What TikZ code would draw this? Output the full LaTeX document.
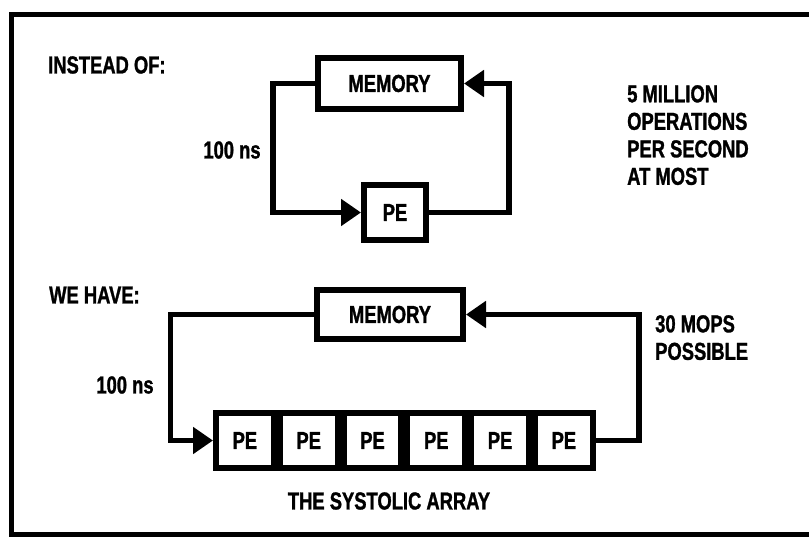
\documentclass[tikz,border=0pt]{standalone}
\usepackage{fontspec}
\usepackage{tikz}
\usetikzlibrary{arrows.meta, positioning, calc}
\newfontfamily\lblfont[FakeStretch=0.75, FakeBold=1.2]{Liberation Sans}
\newcommand{\lbltext}{\lblfont\bfseries\fontsize{24.5}{27.5}\selectfont}
\tikzstyle{membox} = [rectangle, draw=black, line width=6pt, minimum width=143pt, minimum height=51pt, inner sep=0pt, font=\lbltext]
\tikzstyle{pebox} = [rectangle, draw=black, line width=6pt, minimum width=57.8pt, minimum height=55pt, inner sep=0pt, font=\lbltext]
\tikzstyle{lbl} = [inner sep=0pt, font=\lbltext, align=left]
\tikzstyle{arrow} = [line width=5.5pt, -{Triangle[length=20pt, width=26pt]}]
\tikzstyle{frame} = [line width=5pt]

\begin{document}
\begin{tikzpicture}[x=1pt, y=-1pt]
    \useasboundingbox (0,0) rectangle (809,544);
    % Frame
    \draw [frame] (809,14) -- (11,14) -- (11,534) -- (809,534);

    % Instead of
    \node (insteadof) [lbl, anchor=west] at (48,65) {INSTEAD OF:};
    \node (memA) [membox] at (389.5,83.5) {MEMORY};
    \node (peA) [pebox, minimum width=62pt, minimum height=55pt] at (395,212.5) {PE};
    \node (nsA) [lbl] at (232,150) {100 ns};
    \node (mops5) [lbl, anchor=north west] at (627,85) {5 MILLION\\OPERATIONS\\PER SECOND\\AT MOST};

    \draw [arrow] (memA.west) -- ++(-42,0) |- (peA.west);
    \draw [arrow] (peA.east) -- ++(80,0) |- (memA.east);

    % We have
    \node (wehave) [lbl, anchor=west] at (49,295) {WE HAVE:};
    \node (memB) [membox, minimum width=146pt, minimum height=49pt] at (390,314.5) {MEMORY};
    \node (pe1) [pebox] at (244.9,440.5) {PE};
    \node (pe2) [pebox, right=0pt of pe1] {PE};
    \node (pe3) [pebox, right=0pt of pe2] {PE};
    \node (pe4) [pebox, right=0pt of pe3] {PE};
    \node (pe5) [pebox, right=0pt of pe4] {PE};
    \node (pe6) [pebox, right=0pt of pe5] {PE};
    \node (nsB) [lbl] at (125,385) {100 ns};
    \node (mops30) [lbl, anchor=north west] at (655,315) {30 MOPS\\POSSIBLE};
    \node (systolic) [lbl] at (389,501) {THE SYSTOLIC ARRAY};

    \draw [arrow] (memB.west) -- ++(-143.5,0) |- (pe1.west);
    \draw [arrow] (pe6.east) -- ++(43,0) |- (memB.east);
\end{tikzpicture}
\end{document}
